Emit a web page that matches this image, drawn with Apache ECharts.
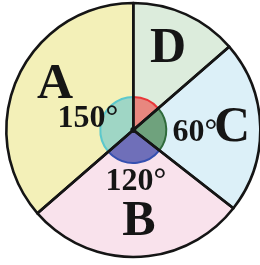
<!DOCTYPE html>
<html>
<head>
<meta charset="utf-8">
<script src="https://cdn.jsdelivr.net/npm/echarts@6/dist/echarts.min.js"></script>
<style>
  html, body { margin: 0; padding: 0; background: #fff; }
  #chart { width: 260px; height: 265px; }
</style>
</head>
<body>
<div id="chart"></div>
<script>
// sectors listed clockwise from 12 o'clock, as drawn (sizes)
const sectors = ['D', 'C', 'B', 'A']
const drawnAngles = [49, 79, 101, 131]
const angleLabels = ['', '60°', '120°', '150°']
const fillColors = ['#dcecdc', '#dcf0f8', '#f9e2ec', '#f3f0b8']
const markerFills = ['#e8877f', '#6fa27d', '#6f6fb9', '#9fd6c5']
const markerEdges = ['#e8383a', '#2f6a3b', '#3550b0', '#5cc8cc']

const cx = 133.3
const cy = 130

// where the letters and degree texts sit
const letterPos = {D: [168, 49], C: [232, 128], B: [139, 222], A: [55, 85]}
const degreePos = [null, [195, 133], [136, 182], [88, 119]]

let chartDom = document.getElementById('chart')
let myChart = echarts.init(chartDom, null, {renderer: 'canvas'})

function pieData(colors, borders, width) {
    return sectors.map((name, i) => ({
        name: name,
        value: drawnAngles[i],
        itemStyle: {
            color: colors ? colors[i] : 'rgba(0,0,0,0)',
            borderColor: borders ? borders[i] : 'transparent',
            borderWidth: width
        }
    }))
}

const basePie = {
    type: 'pie',
    center: [cx, cy],
    startAngle: 90,
    clockwise: true,
    silent: true,
    animation: false,
    label: {show: false},
    labelLine: {show: false},
    emphasis: {disabled: true}
}

let texts = []
sectors.forEach((name, i) => {
    texts.push({
        type: 'text',
        x: letterPos[name][0],
        y: letterPos[name][1],
        z: 100,
        style: {
            text: name,
            font: 'bold 50px "Liberation Serif", serif',
            fill: '#151515',
            textAlign: 'center',
            textVerticalAlign: 'middle'
        }
    })
    if (angleLabels[i] !== '') {
        texts.push({
            type: 'text',
            x: degreePos[i][0],
            y: degreePos[i][1],
            z: 100,
            style: {
                text: angleLabels[i],
                font: 'bold 32px "Liberation Serif", serif',
                fill: '#151515',
                textAlign: 'center',
                textVerticalAlign: 'middle'
            }
        })
    }
})

let option = {
    backgroundColor: '#fff',
    series: [
        Object.assign({}, basePie, {
            radius: 127,
            z: 1,
            data: pieData(fillColors, null, 0)
        }),
        Object.assign({}, basePie, {
            radius: 33,
            z: 2,
            data: pieData(markerFills, markerEdges, 2)
        }),
        Object.assign({}, basePie, {
            radius: 127,
            z: 3,
            data: pieData(null, ['#151515', '#151515', '#151515', '#151515'], 2.6)
        }),
        Object.assign({}, basePie, {
            radius: 3,
            z: 4,
            data: [{name: 'o', value: 1, itemStyle: {color: '#151515'}}]
        })
    ],
    graphic: texts
}

myChart.setOption(option)

window.addEventListener('resize', () => {
    myChart.resize()
})
</script>
</body>
</html>
